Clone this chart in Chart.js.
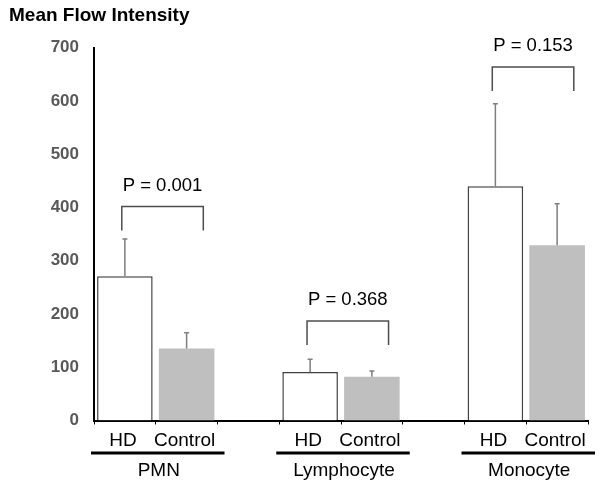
<!DOCTYPE html>
<html>
<head>
<meta charset="utf-8">
<script src="https://cdn.jsdelivr.net/npm/chart.js@4"></script>
<style>
  html, body { margin: 0; padding: 0; background: #fff; }
  #wrap { width: 600px; height: 487px; }
</style>
</head>
<body>
<div id="wrap"><canvas id="chart" width="600" height="487"></canvas></div>
<script>
// categories on the x axis (blank slots separate the groups)
const categories = ['HD', 'Control', '', 'HD', 'Control', '', 'HD', 'Control'];
const groups = ['PMN', 'Lymphocyte', 'Monocyte'];

// means and upper end of the error bars
const hdMean = [271, 91, 440];
const hdUpper = [341, 115, 595];
const controlMean = [135, 82, 329];
const controlUpper = [165, 93, 407];

// p-value brackets (top of bracket, bottom of legs)
const pLabels = ['P = 0.001', 'P = 0.368', 'P = 0.153'];
const bracketTop = [402, 187, 664];
const bracketLeg = [357, 142, 619];

const FONT = 'Arial, "Liberation Sans", sans-serif';

// build one value per category slot
const barValues = categories.map(() => null);
groups.forEach((g, i) => {
  barValues[i * 3] = hdMean[i];
  barValues[i * 3 + 1] = controlMean[i];
});

const annotations = {
  id: 'annotations',
  afterDatasetsDraw(chart) {
    const ctx = chart.ctx;
    const x = chart.scales.x;
    const y = chart.scales.y;
    const meta = chart.getDatasetMeta(0);
    const slot = x.getPixelForValue(1) - x.getPixelForValue(0);

    ctx.save();
    groups.forEach((g, i) => {
      const hdBar = meta.data[i * 3];
      const ctBar = meta.data[i * 3 + 1];

      // error bars (upper only)
      ctx.strokeStyle = '#7f7f7f';
      ctx.lineWidth = 1.5;
      [[hdBar, hdMean[i], hdUpper[i]], [ctBar, controlMean[i], controlUpper[i]]].forEach(([bar, m, u]) => {
        const y0 = y.getPixelForValue(m);
        const y1 = y.getPixelForValue(u);
        ctx.beginPath();
        ctx.moveTo(bar.x, y0);
        ctx.lineTo(bar.x, y1);
        ctx.moveTo(bar.x - 2.5, y1);
        ctx.lineTo(bar.x + 2.5, y1);
        ctx.stroke();
      });

      // bracket
      const lx = hdBar.x - 0.05 * slot;
      const rx = ctBar.x + 0.27 * slot;
      const top = y.getPixelForValue(bracketTop[i]);
      const leg = y.getPixelForValue(bracketLeg[i]);
      ctx.strokeStyle = '#4d4d4d';
      ctx.lineWidth = 1.5;
      ctx.beginPath();
      ctx.moveTo(lx, leg);
      ctx.lineTo(lx, top);
      ctx.lineTo(rx, top);
      ctx.lineTo(rx, leg);
      ctx.stroke();

      ctx.fillStyle = '#000';
      ctx.font = '18.5px ' + FONT;
      ctx.textAlign = 'center';
      ctx.textBaseline = 'middle';
      ctx.fillText(pLabels[i], (lx + rx) / 2, top - 21);

      // group underline and name
      const gl = hdBar.x - slot / 2 - 3;
      const gr = ctBar.x + slot / 2 + 7;
      ctx.strokeStyle = '#000';
      ctx.lineWidth = 3;
      ctx.beginPath();
      ctx.moveTo(gl, x.top + 32.5);
      ctx.lineTo(gr, x.top + 32.5);
      ctx.stroke();
      ctx.font = '19px ' + FONT;
      ctx.fillText(g, (gl + gr) / 2 + 1, x.top + 50);
    });
    ctx.restore();
  }
};

new Chart(document.getElementById('chart'), {
  type: 'bar',
  data: {
    labels: categories,
    datasets: [{
      data: barValues,
      backgroundColor: categories.map(c => c === 'HD' ? '#ffffff' : '#bfbfbf'),
      borderColor: categories.map(c => c === 'HD' ? '#404040' : '#bfbfbf'),
      borderWidth: categories.map(c => c === 'HD' ? 1.5 : 0),
      borderSkipped: 'bottom',
      barPercentage: 0.9,
      categoryPercentage: 1.0
    }]
  },
  options: {
    responsive: false,
    animation: false,
    layout: { padding: { left: 9, right: 12, top: 0, bottom: 0 } },
    plugins: {
      legend: { display: false },
      tooltip: { enabled: false },
      title: {
        display: true,
        text: 'Mean Flow Intensity',
        align: 'start',
        color: '#000',
        font: { family: FONT, size: 19, weight: 'bold' },
        padding: { top: 4, bottom: 21 }
      }
    },
    scales: {
      x: {
        grid: {
          display: true,
          drawOnChartArea: false,
          drawTicks: true,
          tickLength: 4,
          offset: true,
          color: '#000',
          lineWidth: 1
        },
        border: { display: true, color: '#000', width: 2 },
        ticks: {
          color: '#000',
          font: { family: FONT, size: 19 },
          padding: 5,
          labelOffset: -2,
          maxRotation: 0,
          autoSkip: false
        },
        afterFit(scale) { scale.height = 66.5; }
      },
      y: {
        min: 0,
        max: 700,
        grid: { display: false, drawTicks: false },
        border: { display: true, color: '#000', width: 2 },
        ticks: {
          stepSize: 100,
          color: '#595959',
          padding: 15,
          font: { family: FONT, size: 17, weight: 'bold' }
        },
        afterFit(scale) { scale.width = 85; }
      }
    }
  },
  plugins: [annotations]
});
</script>
</body>
</html>
